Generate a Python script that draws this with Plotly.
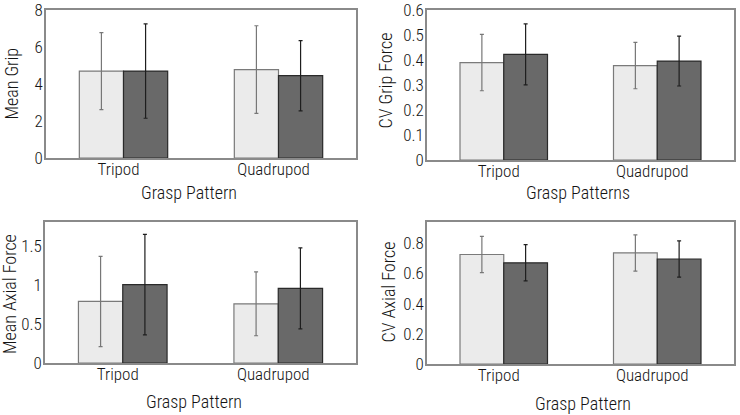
import plotly.graph_objects as go

categories = ["Tripod", "Quadrupod"]

# Panel 1: Mean Grip
grip_light = [4.70, 4.78]
grip_light_err = [2.08, 2.37]
grip_dark = [4.70, 4.45]
grip_dark_err = [2.55, 1.90]

# Panel 2: CV Grip Force
cvgrip_light = [0.39, 0.378]
cvgrip_light_err = [0.113, 0.093]
cvgrip_dark = [0.423, 0.396]
cvgrip_dark_err = [0.122, 0.100]

# Panel 3: Mean Axial Force
axial_light = [0.79, 0.76]
axial_light_err = [0.58, 0.41]
axial_dark = [1.005, 0.957]
axial_dark_err = [0.645, 0.52]

# Panel 4: CV Axial Force
cvaxial_light = [0.725, 0.735]
cvaxial_light_err = [0.12, 0.12]
cvaxial_dark = [0.670, 0.695]
cvaxial_dark_err = [0.12, 0.12]

y_titles = ["Mean Grip", "CV Grip Force", "Mean Axial Force", "CV Axial Force"]
x_titles = ["Grasp Pattern", "Grasp Patterns", "Grasp Pattern", "Grasp Pattern"]
y_ranges = [[0, 8.002], [0, 0.6002], [0, 1.81], [0, 0.94]]
y_dticks = [2, 0.1, 0.5, 0.2]

panels = [
    (grip_light, grip_light_err, grip_dark, grip_dark_err),
    (cvgrip_light, cvgrip_light_err, cvgrip_dark, cvgrip_dark_err),
    (axial_light, axial_light_err, axial_dark, axial_dark_err),
    (cvaxial_light, cvaxial_light_err, cvaxial_dark, cvaxial_dark_err),
]

W, H = 740, 415
# pixel boxes (left, right, top, bottom)
boxes = [(46, 356, 10, 158), (427, 734, 10, 160), (45, 356, 222, 363), (427, 734, 222, 364)]
# title anchor positions in pixels: (y-title x, y-title y, x-title x, x-title y)
title_pos = [(10.5, 84, 189, 192), (385.5, 80, 578, 193), (9, 294, 194, 401), (387.5, 292, 582.5, 403)]

FONT = "Roboto Condensed, Liberation Sans Narrow, sans-serif"
TXT = "#141414"

fig = go.Figure()
layout = dict(
    width=W, height=H,
    margin=dict(l=0, r=0, t=0, b=0),
    paper_bgcolor="white", plot_bgcolor="white",
    showlegend=False,
    barmode="group", bargap=0.43, bargroupgap=0,
    font=dict(family=FONT, color=TXT, weight=300),
)
annotations = []

for i, (bl, ble, bd, bde) in enumerate(panels):
    n = "" if i == 0 else str(i + 1)
    xa, ya = "x" + n, "y" + n
    fig.add_trace(go.Bar(
        x=categories, y=bl, xaxis=xa, yaxis=ya, offsetgroup="a",
        marker=dict(color="#ebebeb", line=dict(color="#7a7a7a", width=1.2)),
        error_y=dict(type="data", array=ble, visible=True, color="#777777", thickness=1.2, width=2),
    ))
    fig.add_trace(go.Bar(
        x=categories, y=bd, xaxis=xa, yaxis=ya, offsetgroup="b",
        marker=dict(color="#696969", line=dict(color="#2a2a2a", width=1.2)),
        error_y=dict(type="data", array=bde, visible=True, color="#1e1e1e", thickness=1.2, width=2),
    ))
    l, r, t, b = boxes[i]
    layout["xaxis" + n] = dict(
        domain=[l / W, r / W], anchor=ya, automargin=False,
        showline=True, mirror=True, linecolor="#8a8a8a", linewidth=1.5,
        showgrid=False, ticks="", ticklen=0, zeroline=False,
        tickfont=dict(size=17, family=FONT, color=TXT, weight=300),
        ticklabelshift=-5, ticklabelstandoff=-5, ticklabeloverflow="allow",
    )
    layout["yaxis" + n] = dict(
        domain=[1 - b / H, 1 - t / H], anchor=xa, automargin=False,
        range=y_ranges[i], dtick=y_dticks[i], tick0=0,
        showline=True, mirror=True, linecolor="#8a8a8a", linewidth=1.5,
        showgrid=False, ticks="", ticklen=0, zeroline=False,
        tickfont=dict(size=17, family=FONT, color=TXT, weight=300),
        ticklabelstandoff=-2, ticklabeloverflow="allow",
    )
    yx, yy, xx, xy = title_pos[i]
    annotations.append(dict(
        text=y_titles[i], x=yx / W, y=1 - yy / H, xref="paper", yref="paper",
        xanchor="center", yanchor="middle", textangle=-90, showarrow=False,
        font=dict(size=18, family=FONT, color=TXT, weight=300),
    ))
    annotations.append(dict(
        text=x_titles[i], x=xx / W, y=1 - xy / H, xref="paper", yref="paper",
        xanchor="center", yanchor="middle", showarrow=False,
        font=dict(size=18, family=FONT, color=TXT, weight=300),
    ))

layout["annotations"] = annotations
fig.update_layout(**layout)
fig.write_html("out.html", config={"displayModeBar": False},
               post_script="document.body.style.margin='0';")
